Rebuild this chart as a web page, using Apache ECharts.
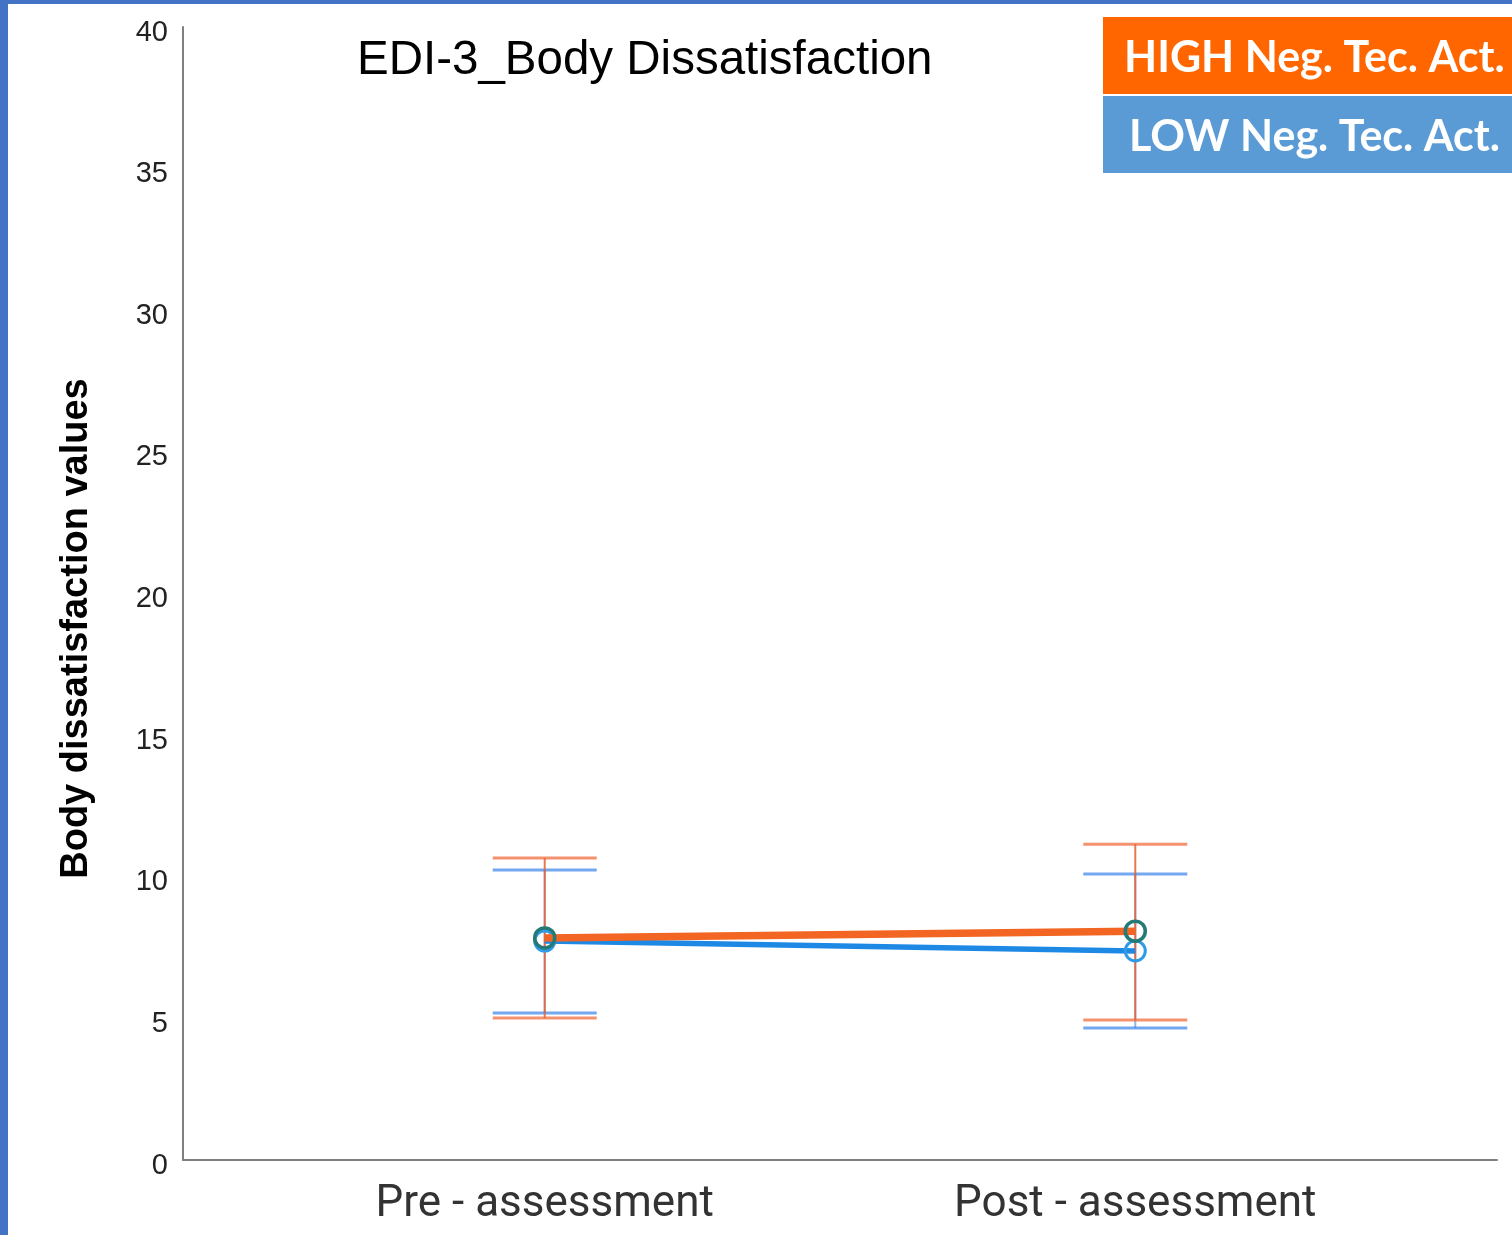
<!DOCTYPE html>
<html>
<head>
<meta charset="utf-8">
<script src="https://cdn.jsdelivr.net/npm/echarts@6/dist/echarts.min.js"></script>
<style>
html,body{margin:0;padding:0;background:#fff;}
#wrap{position:absolute;left:0;top:0;width:1512px;height:1235px;background:#fff;}
#chart{width:1512px;height:1235px;}
</style>
</head>
<body>
<div id="wrap"><div id="chart"></div></div>
<script>
// ---- data ----
const categories = ['Pre - assessment', 'Post - assessment'];
const seriesNames = ['HIGH Neg. Tec. Act.', 'LOW Neg. Tec. Act.'];
const highMean = [7.84, 8.08];
const highLower = [5.01, 4.94];
const highUpper = [10.66, 11.15];
const lowMean = [7.73, 7.38];
const lowLower = [5.19, 4.66];
const lowUpper = [10.24, 10.10];
const yTicks = [0, 5, 10, 15, 20, 25, 30, 35, 40];

const ORANGE = '#F26522';
const BLUE = '#1E88E5';
const ORANGE_CAP = 'rgba(240,100,50,0.7)';
const BLUE_CAP = 'rgba(40,120,230,0.65)';
const ORANGE_V = 'rgba(232,96,50,0.85)';
const BLUE_V = 'rgba(60,120,220,0.55)';

function pts(means) { return means.map((v, i) => [i, v]); }
function bars(lo, hi) { return lo.map((v, i) => [i, v, hi[i]]); }

function errRender(capColor, vColor) {
  return function (params, api) {
    const x = api.value(0);
    const p1 = api.coord([x, api.value(1)]);
    const p2 = api.coord([x, api.value(2)]);
    const hw = 52;
    const style = { stroke: capColor, lineWidth: 3 };
    return {
      type: 'group',
      children: [
        { type: 'line', shape: { x1: p1[0], y1: p1[1], x2: p2[0], y2: p2[1] }, style: { stroke: vColor, lineWidth: 2 } },
        { type: 'line', shape: { x1: p1[0] - hw, y1: p1[1], x2: p1[0] + hw, y2: p1[1] }, style: style },
        { type: 'line', shape: { x1: p2[0] - hw, y1: p2[1], x2: p2[0] + hw, y2: p2[1] }, style: style }
      ]
    };
  };
}

const chart = echarts.init(document.getElementById('chart'), null, { renderer: 'canvas' });
chart.setOption({
  backgroundColor: '#ffffff',
  animation: false,
  title: {
    text: 'EDI-3_Body Dissatisfaction',
    left: 352, top: 32,
    textStyle: { fontFamily: 'Liberation Sans', fontSize: 47.5, fontWeight: 'normal', color: '#000' }
  },
  grid: { left: 183, right: 15, top: 27, bottom: 75 },
  xAxis: {
    type: 'value',
    min: -0.6125, max: 1.6125,
    axisLine: { show: true, onZero: false, lineStyle: { color: '#7f7f7f', width: 2 } },
    axisTick: { show: false },
    splitLine: { show: false },
    axisLabel: {
      customValues: [0, 1],
      formatter: function (v) { return categories[Math.round(v)]; },
      fontFamily: 'Roboto', fontSize: 44, color: '#333', margin: 23
    }
  },
  yAxis: {
    type: 'value', min: 0, max: 40, interval: 5,
    name: 'Body dissatisfaction values',
    nameLocation: 'middle', nameRotate: 90, nameGap: 87,
    nameTextStyle: {
      fontFamily: 'Liberation Sans', fontSize: 38, fontWeight: 'bold', color: '#000',
      padding: [0, 70, 0, 0]
    },
    axisLine: { show: true, onZero: false, lineStyle: { color: '#7f7f7f', width: 2 } },
    axisTick: { show: false },
    splitLine: { show: false },
    axisLabel: {
      customValues: yTicks,
      fontFamily: 'Liberation Sans', fontSize: 29, color: '#222', margin: 15,
      verticalAlign: 'top', padding: [-9, 0, 0, 0]
    }
  },
  series: [
    { type: 'custom', name: seriesNames[1] + ' CI', data: bars(lowLower, lowUpper), renderItem: errRender(BLUE_CAP, BLUE_V), z: 1 },
    { type: 'custom', name: seriesNames[0] + ' CI', data: bars(highLower, highUpper), renderItem: errRender(ORANGE_CAP, ORANGE_V), z: 2 },
    {
      type: 'line', name: seriesNames[1], data: pts(lowMean), z: 3,
      lineStyle: { color: BLUE, width: 5.5 },
      symbol: 'circle', symbolSize: 20,
      itemStyle: { color: 'rgba(0,0,0,0)', borderColor: '#2E9BE8', borderWidth: 3 }
    },
    {
      type: 'line', name: seriesNames[0], data: pts(highMean), z: 4,
      lineStyle: { color: ORANGE, width: 7.5 },
      symbol: 'circle', symbolSize: 20,
      itemStyle: { color: 'rgba(0,0,0,0)', borderColor: '#237A76', borderWidth: 3.5 }
    }
  ],
  graphic: [
    { type: 'rect', left: 0, top: 0, shape: { width: 8, height: 1235 }, style: { fill: '#4472C4' }, z: 100 },
    { type: 'rect', left: 0, top: 0, shape: { width: 1512, height: 4 }, style: { fill: '#4472C4' }, z: 100 },
    { type: 'rect', left: 1103, top: 17, shape: { width: 409, height: 77 }, style: { fill: '#FF6600' }, z: 100 },
    { type: 'rect', left: 1103, top: 96, shape: { width: 409, height: 77 }, style: { fill: '#5B9BD5' }, z: 100 },
    { type: 'text', left: 1124, top: 37, style: { text: seriesNames[0], fill: '#fff', font: 'bold 43px Lato' }, z: 101 },
    { type: 'text', left: 1129, top: 116, style: { text: seriesNames[1], fill: '#fff', font: 'bold 43px Lato' }, z: 101 }
  ]
});
</script>
</body>
</html>
